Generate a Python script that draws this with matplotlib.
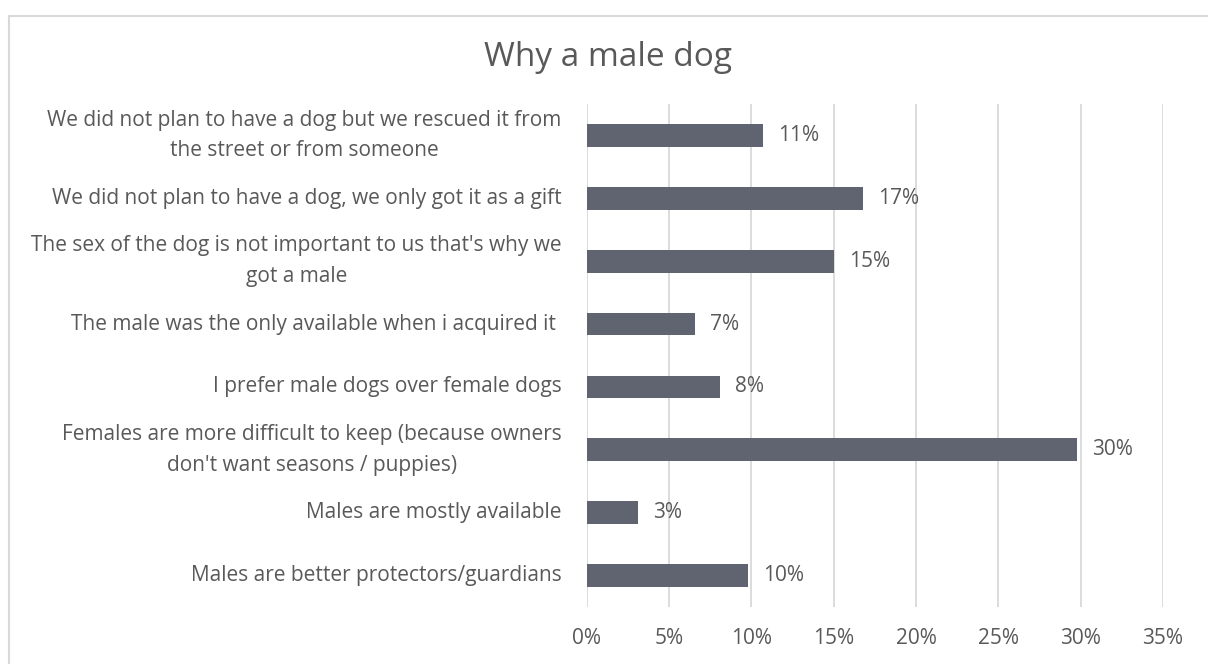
import matplotlib
matplotlib.use("Agg")
import matplotlib.pyplot as plt
from matplotlib.patches import Rectangle

# Survey answers, top to bottom, and share of respondents (%)
reasons = [
    "We did not plan to have a dog but we rescued it from\nthe street or from someone",
    "We did not plan to have a dog, we only got it as a gift",
    "The sex of the dog is not important to us that's why we\ngot a male",
    "The male was the only available when i acquired it ",
    "I prefer male dogs over female dogs",
    "Females are more difficult to keep (because owners\ndon't want seasons / puppies)",
    "Males are mostly available",
    "Males are better protectors/guardians",
]
shares = [10.7, 16.8, 15.0, 6.6, 8.1, 29.8, 3.1, 9.8]
x_ticks = [0, 5, 10, 15, 20, 25, 30, 35]
title = "Why a male dog"

BAR = "#606370"
TEXT = "#595959"
GRID = "#d9d9d9"
FONT = "Open Sans"
FS = 15

W, H = 1208, 664
fig = plt.figure(figsize=(W / 100, H / 100), dpi=100)
fig.patch.set_facecolor("white")

# chart border
fig.add_artist(Rectangle((9 / W, -0.05), 1.1, 1 - 16 / H + 0.05,
                         transform=fig.transFigure, fill=False,
                         edgecolor=GRID, linewidth=1.5))

left, right = 586.7 / W, 1163 / W
bottom, top = 1 - 607 / H, 1 - 104 / H
ax = fig.add_axes([left, bottom, right - left, top - bottom])

ypos = list(range(len(reasons)))
ax.barh(ypos, shares, height=0.36, color=BAR, zorder=3)

for y, v in zip(ypos, shares):
    ax.annotate(f"{round(v):d}%", xy=(v, y), xytext=(15, 0),
                textcoords="offset pixels",
                va="center", ha="left", fontsize=FS, color=TEXT,
                family=FONT)

ax.set_xlim(0, 35)
ax.set_ylim(len(reasons) - 0.5, -0.5)
ax.set_xticks(x_ticks)
ax.set_xticklabels([f"{t}%" for t in x_ticks], fontsize=FS, color=TEXT,
                   family=FONT)
ax.set_yticks(ypos)
ax.set_yticklabels(reasons, fontsize=FS, color=TEXT, family=FONT,
                   multialignment="center", linespacing=1.6, va="center")
ax.tick_params(axis="both", length=0)
ax.tick_params(axis="x", pad=15)
ax.tick_params(axis="y", pad=18)
for s in ax.spines.values():
    s.set_visible(False)
ax.grid(axis="x", color=GRID, linewidth=1.3, zorder=0)
ax.set_axisbelow(True)

fig.text(608 / W, 1 - 58 / H, title, ha="center", va="center",
         fontsize=24, color=TEXT, family=FONT)

fig.savefig("out.png", dpi=100, facecolor="white")
